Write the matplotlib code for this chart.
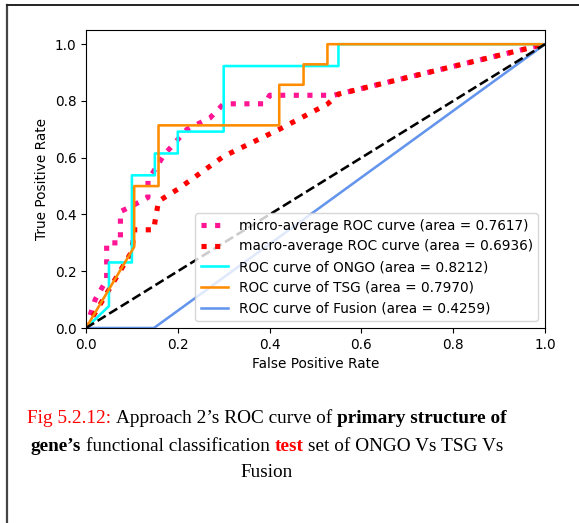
import matplotlib
matplotlib.use('Agg')
import matplotlib.pyplot as plt
from matplotlib.lines import Line2D

# values
micro_fpr = [0.0, 0.02, 0.045, 0.045, 0.075, 0.075, 0.10, 0.135, 0.135, 0.17, 0.22, 0.27, 0.30, 0.39, 0.40, 0.54, 1.0]
micro_tpr = [0.0, 0.10, 0.17, 0.30, 0.30, 0.41, 0.43, 0.46, 0.52, 0.61, 0.70, 0.74, 0.79, 0.79, 0.82, 0.82, 1.0]

macro_fpr = [0.0, 0.10, 0.105, 0.148, 0.15, 0.158, 0.20, 0.30, 0.421, 0.474, 0.526, 0.55, 1.0]
macro_tpr = [0.0, 0.27, 0.346, 0.346, 0.372, 0.447, 0.489, 0.605, 0.70, 0.745, 0.789, 0.824, 1.0]

ongo_fpr = [0.0, 0.05, 0.05, 0.10, 0.10, 0.15, 0.15, 0.20, 0.20, 0.30, 0.30, 0.55, 0.55, 1.0]
ongo_tpr = [0.0, 0.077, 0.231, 0.231, 0.538, 0.538, 0.615, 0.615, 0.692, 0.692, 0.923, 0.923, 1.0, 1.0]

tsg_fpr = [0.0, 0.105, 0.105, 0.158, 0.158, 0.421, 0.421, 0.474, 0.474, 0.526, 0.526, 1.0]
tsg_tpr = [0.0, 0.286, 0.50, 0.50, 0.714, 0.714, 0.857, 0.857, 0.929, 0.929, 1.0, 1.0]

fusion_fpr = [0.0, 0.148, 1.0]
fusion_tpr = [0.0, 0.0, 1.0]

labels = ['micro-average ROC curve (area = 0.7617)',
          'macro-average ROC curve (area = 0.6936)',
          'ROC curve of ONGO (area = 0.8212)',
          'ROC curve of TSG (area = 0.7970)',
          'ROC curve of Fusion (area = 0.4259)']

caption1 = ['Fig 5.2.12:', 'Approach 2\u2019s ROC curve of', 'primary structure of']
caption2 = ['gene\u2019s', 'functional classification', 'test', 'set of ONGO Vs TSG Vs']
caption3 = ['Fusion']

plt.rcParams['font.size'] = 9.8

fig = plt.figure(figsize=(5.79, 5.23), dpi=100)
ax = fig.add_axes([86/579, 1-328/523, 459/579, 298/523])

ax.plot(micro_fpr, micro_tpr, color='deeppink', linestyle=':', linewidth=3.7, label=labels[0])
ax.plot(macro_fpr, macro_tpr, color='red', linestyle=':', linewidth=3.7, label=labels[1])
ax.plot(ongo_fpr, ongo_tpr, color='aqua', linewidth=1.85, label=labels[2])
ax.plot(tsg_fpr, tsg_tpr, color='darkorange', linewidth=1.85, label=labels[3])
ax.plot(fusion_fpr, fusion_tpr, color='cornflowerblue', linewidth=1.85, label=labels[4])
ax.plot([0, 1], [0, 1], 'k--', linewidth=1.85)

ax.set_xlim(0.0, 1.0)
ax.set_ylim(0.0, 1.05)
ax.set_xlabel('False Positive Rate')
ax.set_ylabel('True Positive Rate')
ax.legend(loc='lower right')

# document frame (left and top edge)
fig.add_artist(Line2D([7/579, 7/579], [0, 1-5/523], transform=fig.transFigure, color='#444444', lw=1.6))
fig.add_artist(Line2D([7/579, 1], [1-5/523, 1-5/523], transform=fig.transFigure, color='#222222', lw=1.4))

# caption with mixed colours / weights
cap_styles = [
    [('red', 'normal'), ('black', 'normal'), ('black', 'bold')],
    [('black', 'bold'), ('black', 'normal'), ('red', 'bold'), ('black', 'normal')],
    [('black', 'normal')],
]
cap_base = [423, 451, 477]
cap_fs = 13.9
cx = 267
renderer = fig.canvas.get_renderer()

def textw(s, weight):
    t = fig.text(0, 0, s, fontsize=cap_fs, family='Liberation Serif', weight=weight)
    w = t.get_window_extent(renderer).width
    t.remove()
    return w

space = textw('a a', 'normal') - textw('aa', 'normal')
for pieces, styles, yb in zip([caption1, caption2, caption3], cap_styles, cap_base):
    widths = [textw(p, st[1]) for p, st in zip(pieces, styles)]
    total = sum(widths) + space * (len(pieces) - 1)
    x = cx - total / 2
    for p, st, w in zip(pieces, styles, widths):
        fig.text(x / 579, 1 - yb / 523, p, fontsize=cap_fs, family='Liberation Serif',
                 color=st[0], weight=st[1], va='baseline', ha='left')
        x += w + space

fig.savefig('out.png', dpi=100)
